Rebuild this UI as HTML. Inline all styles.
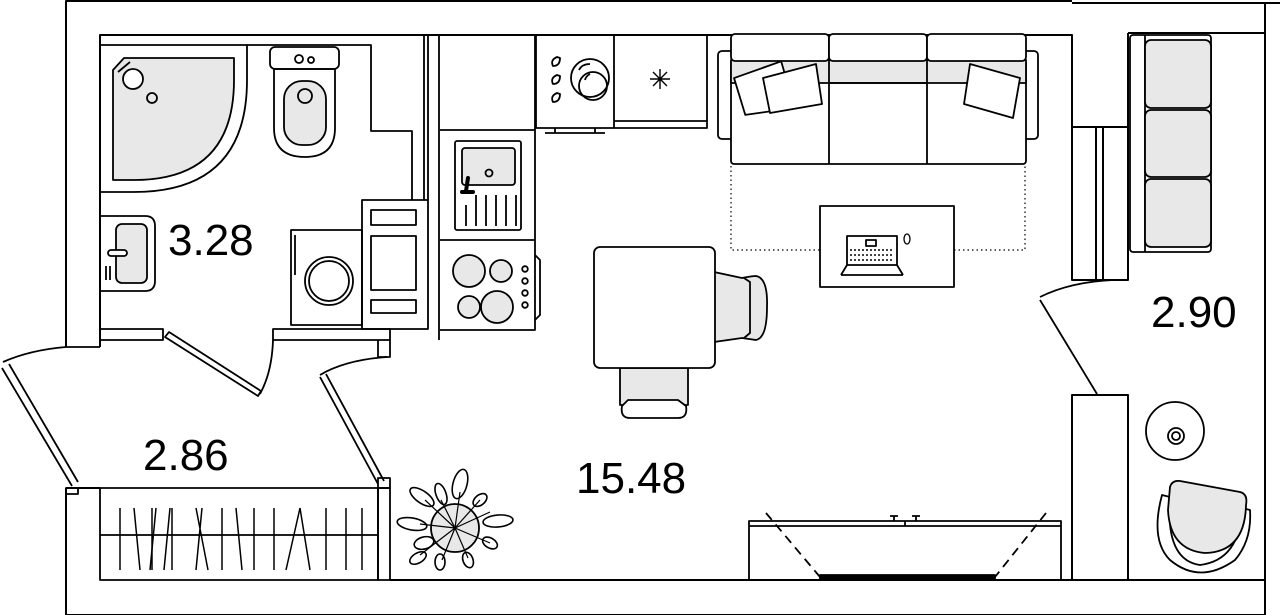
<!DOCTYPE html>
<html><head><meta charset="utf-8"><style>
html,body{margin:0;padding:0;background:#fff;width:1280px;height:615px;overflow:hidden}
svg{display:block}
text{font-family:"Liberation Sans",sans-serif;font-size:44px;fill:#000}
</style></head><body>
<svg width="1280" height="615" viewBox="0 0 1280 615" xmlns="http://www.w3.org/2000/svg" fill="none" stroke="#000" stroke-width="1.8" stroke-linejoin="round">
<!-- outer walls -->
<path d="M66,615 V488 M66,347 V1 H1072 M1072,3 H1280 M1265,3 V615" stroke-width="2"/>
<path d="M100,347 V35 H1072 V127 M1072,127 H1128 V280 H1072 V127 M1096,127 V280 M1103,127 V280 M1128,33 H1265 M1128,33 V127" stroke-width="2"/>
<rect x="1072" y="395" width="56" height="185" stroke-width="2"/>
<path d="M390,580 H1072 M1128,580 H1265" stroke-width="2"/>
<path d="M66,347 H100"/>
<!-- door right room -->
<path d="M1040,297 Q1070,282 1113,280"/>
<path d="M1040,300 L1097,394"/>
<!-- bathroom walls -->
<path d="M424,35 V200 M428,35 V200 M439,35 V340"/>
<path d="M100,329 H163 V340 H100 M273,329 H390 V340 H273 Z" />
<path d="M378,340 V357 H390 V340"/>
<path d="M165,337 L258,396 L261,391 L169,332 Z"/>
<path d="M260,394 Q272,372 273,340"/>
<!-- balcony -->
<path d="M3,362 Q30,350 66,347"/>
<path d="M2,368 L72,486 M9,364 L78,482"/>
<path d="M320,377 L378,484 M326,374 L384,481"/>
<path d="M320,375 Q345,360 387,357"/>
<rect x="66" y="488" width="12" height="6"/>
<rect x="378" y="478" width="12" height="10"/>
<rect x="100" y="488" width="278" height="92"/>
<path d="M100,535 H378"/>
<rect x="378" y="488" width="12" height="92"/>
<path d="M66,615 H1265 M66,488 H100" stroke-width="2"/>
<g stroke-width="1.5">
<path d="M120,508 V570 M152,508 V570 M172,508 V570 M222,508 V570 M254,508 V570 M274,508 V570 M326,508 V570 M346,508 V570 M362,508 V570"/>
<path d="M134,508 L140,570 M170,508 L164,570 M202,508 L196,570 M196,508 L208,570 M236,508 L242,570 M300,508 L286,570 M300,508 L310,570 M156,508 L150,570"/>
</g>
<!-- shower -->
<path d="M100,45 H247 V80 Q247,192 134,192 H100"/>
<path d="M113,70 L124,58 H234 V80 Q234,180 134,180 H113 Z" fill="#e8e8e8"/>
<circle cx="133" cy="79" r="10" fill="#fff"/><path d="M118,72 L130,62"/>
<circle cx="152" cy="98" r="5"/>
<path d="M247,45 H371 V131 H412 V200"/>
<!-- toilet -->
<rect x="270" y="47" width="69" height="22" rx="5"/>
<circle cx="299" cy="59" r="4"/><circle cx="311" cy="60" r="3"/>
<path d="M274,69 H335 V128 Q335,157 305,157 Q274,157 274,128 Z"/>
<rect x="284" y="81" width="42" height="64" rx="18" fill="#e8e8e8"/>
<circle cx="305" cy="96" r="7"/>
<!-- sink -->
<path d="M100,216 H145 Q155,216 155,226 V281 Q155,291 145,291 H100"/>
<rect x="116" y="224" width="31" height="59" rx="6" fill="#e8e8e8"/>
<rect x="108" y="250" width="19" height="6" rx="3" fill="#fff"/>
<path d="M106,266 V280 M110,266 V280"/>
<!-- washer -->
<rect x="291" y="230" width="71" height="95"/>
<path d="M295,235 V275"/>
<circle cx="329" cy="281" r="24"/><circle cx="329" cy="281" r="20"/>
<rect x="362" y="200" width="66" height="129"/>
<rect x="371" y="210" width="45" height="15"/>
<rect x="371" y="236" width="45" height="54"/>
<rect x="371" y="300" width="45" height="13"/>
<!-- kitchen -->
<path d="M440,130 H535 M440,240 H535 M535,35 V330 H440"/>
<rect x="455" y="141" width="66" height="89" rx="2"/>
<rect x="462" y="148" width="53" height="37" rx="3" fill="#e8e8e8"/>
<circle cx="489" cy="173" r="3.5"/>
<path d="M468,178 L466,191 M462,192 H473" stroke-width="4" stroke-linecap="round"/>
<path d="M466,205 V226 M476,195 V226 M486,195 V226 M496,195 V226 M506,195 V226 M516,195 V226"/>
<g fill="#e8e8e8"><circle cx="469" cy="271" r="16"/><circle cx="501" cy="271" r="11"/><circle cx="469" cy="307" r="11"/><circle cx="497" cy="307" r="16"/></g>
<circle cx="525" cy="269" r="2.8"/><circle cx="525" cy="281" r="2.8"/><circle cx="525" cy="293" r="2.8"/><circle cx="525" cy="305" r="2.8"/>
<path d="M535,255 L540,260 V315 L535,320"/>
<path d="M536,35 V128 H614 M614,35 V128 H707 V35 M614,121 H707 M545,133 H605 M555,128 V133 M595,128 V133"/>
<circle cx="590" cy="78" r="19"/><circle cx="593" cy="86" r="14"/>
<path d="M579,70 Q582,64 590,64 M585,80 Q586,76 590,74"/>
<path d="M553,66 Q550,60 557,57 L560,58 Q560,66 553,66 Z M553,84 Q550,78 557,75 L560,76 Q560,84 553,84 Z M553,102 Q550,96 557,93 L560,94 Q560,102 553,102 Z"/>
<path d="M650,79 H670 M660,69 V89 M653,72 L667,86 M667,72 L653,86" stroke-width="1.4"/>
<!-- sofa -->
<rect x="718" y="51" width="24" height="88" rx="4"/>
<rect x="1014" y="51" width="24" height="88" rx="4"/>
<rect x="731" y="60" width="295" height="104" rx="3" fill="#fff"/>
<rect x="731" y="60" width="295" height="23" fill="#e8e8e8"/>
<path d="M829,60 V164 M927,60 V164 M829,83 H927"/>
<rect x="731" y="34" width="98" height="27" rx="4" fill="#fff"/>
<rect x="829" y="34" width="98" height="27" rx="4" fill="#fff"/>
<rect x="927" y="34" width="99" height="27" rx="4" fill="#fff"/>
<path d="M736,74 L785,64 L792,112 L742,112 Z" fill="#fff" transform="rotate(-8 764 90)"/>
<path d="M763,78 L816,64 L822,104 L770,113 Z" fill="#fff"/>
<path d="M970,64 L1020,78 L1013,118 L964,104 Z" fill="#fff"/>
<path d="M731,166 V250 H820 M954,250 H1025 V166" stroke-dasharray="1.5,3" stroke-width="1.2"/>
<rect x="820" y="206" width="134" height="81"/>
<path d="M847,236 H897 V265 H847 Z M866,240 H876 V246 H866 Z M841,275 L847,265 M903,275 L897,265 M841,275 H903"/>
<path d="M850,250 H894 M850,255 H894 M850,260 H894" stroke-dasharray="2,2" stroke-width="1.5"/>
<ellipse cx="907" cy="239" rx="3" ry="5" stroke-width="1.3"/>
<!-- dining -->
<path d="M714,272 L742,278 Q752,276 756,276 Q768,278 767,307 Q767,338 756,340 L742,338 L714,342 Z" fill="#e8e8e8"/>
<path d="M744,278 L750,282 V333 L744,338" />
<path d="M620,368 V405 L688,405 V368 Z" fill="#e8e8e8"/>
<path d="M622,406 Q620,418 630,418 H678 Q688,418 686,406 L678,400 H628 Z" fill="#fff"/>
<rect x="594" y="247" width="121" height="121" rx="6" fill="#fff"/>
<!-- tv -->
<rect x="749" y="521" width="312" height="59"/>
<path d="M749,526 H1061 M905,521 V526 M890,516 H898 M912,516 H920 M894,516 V521 M916,516 V521"/>
<path d="M766,513 L820,577 M1046,513 L995,577" stroke-dasharray="9,6"/>
<rect x="820" y="575" width="175" height="4" fill="#000"/>
<!-- plant -->
<circle cx="455" cy="528" r="24" fill="#e8e8e8"/>
<g fill="#fff" stroke-width="1.6">
<ellipse cx="460" cy="484" rx="7" ry="15" transform="rotate(15 460 484)"/>
<ellipse cx="498" cy="521" rx="15" ry="6" transform="rotate(-5 498 521)"/>
<ellipse cx="412" cy="524" rx="15" ry="6" transform="rotate(10 412 524)"/>
<ellipse cx="422" cy="497" rx="14" ry="6" transform="rotate(35 422 497)"/>
<ellipse cx="480" cy="500" rx="8" ry="5" transform="rotate(-40 480 500)"/>
<ellipse cx="490" cy="543" rx="8" ry="5" transform="rotate(30 490 543)"/>
<ellipse cx="418" cy="558" rx="9" ry="5" transform="rotate(-30 418 558)"/>
<ellipse cx="440" cy="562" rx="5" ry="8"/>
<ellipse cx="468" cy="560" rx="5" ry="8" transform="rotate(-20 468 560)"/>
<ellipse cx="424" cy="543" rx="10" ry="6" transform="rotate(-15 424 543)"/>
<ellipse cx="441" cy="494" rx="5" ry="11" transform="rotate(-20 441 494)"/>
</g>
<path d="M455,528 L460,492 M455,528 L490,512 M455,528 L420,524 M455,528 L425,500 M455,528 L490,543 M455,528 L420,555 M455,528 L442,560 M455,528 L468,558 M455,528 L441,500 M455,528 L480,500" stroke-width="1.2"/>
<!-- right room -->
<rect x="1130" y="35" width="81" height="217" rx="3"/>
<path d="M1145,35 V252"/>
<rect x="1145" y="40" width="66" height="68" rx="6" fill="#e8e8e8"/>
<rect x="1145" y="110" width="66" height="67" rx="6" fill="#e8e8e8"/>
<rect x="1145" y="179" width="66" height="68" rx="6" fill="#e8e8e8"/>
<circle cx="1175" cy="431" r="29"/><circle cx="1176" cy="436" r="8"/><circle cx="1176" cy="436" r="4"/>
<path d="M1162,495 Q1150,540 1170,560 Q1200,585 1235,560 Q1252,540 1250,510 L1242,508 Q1240,560 1200,565 Q1165,560 1170,497 Z" fill="#fff"/>
<path d="M1170,487 Q1172,480 1180,481 L1240,492 Q1248,494 1246,505 Q1245,552 1205,553 Q1170,550 1168,510 Z" fill="#e8e8e8"/>
<!-- labels -->
<g stroke="none">
<text x="168" y="255">3.28</text>
<text x="143" y="470">2.86</text>
<text x="1151" y="327">2.90</text>
<text x="576" y="493">15.48</text>
</g>
</svg>
</body></html>
